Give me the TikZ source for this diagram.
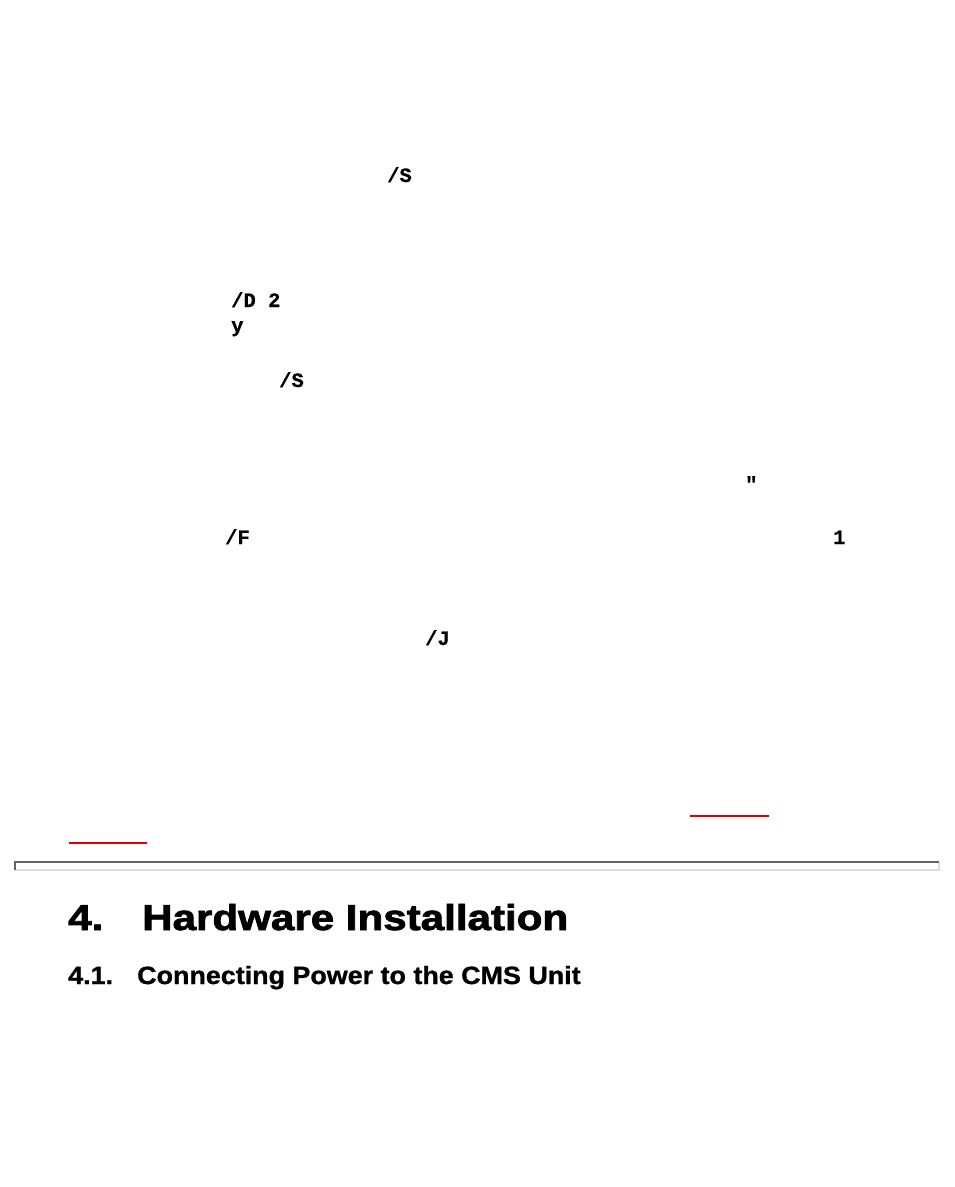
\documentclass[tikz,border=0pt]{standalone}
\usepackage{fontspec}
\newfontfamily\codefont{Liberation Mono}[BoldFeatures={FakeBold=0.6}]
\newfontfamily\headfont{Liberation Sans}[BoldFeatures={FakeBold=2}]
\newfontfamily\subheadfont{Liberation Sans}[BoldFeatures={FakeBold=1}]
\definecolor{linkred}{RGB}{220,0,0}
\definecolor{ruledark}{RGB}{100,100,100}
\definecolor{rulelight}{RGB}{222,222,222}

\begin{document}
\begin{tikzpicture}[x=1pt,y=-1pt,
  code/.style={font=\codefont\bfseries\fontsize{20.5}{20.5}\selectfont,anchor=base west,inner sep=0pt},
  head/.style={font=\headfont\bfseries\fontsize{36}{36}\selectfont,anchor=base west,inner sep=0pt,xscale=1.17,transform shape},
  subhead/.style={font=\subheadfont\bfseries\fontsize{25}{25}\selectfont,anchor=base west,inner sep=0pt,xscale=1.075,transform shape}]
    \useasboundingbox[fill=white] (0,0) rectangle (954,1187);

    % scattered code fragments
    \node[code] (s1) at (387,182) {/S};
    \node[code] (d2) at (231,307) {/D 2};
    \node[code] (y) at (231,332) {y};
    \node[code] (s2) at (279,387) {/S};
    \node[code] (q) at (745,491) {"};
    \node[code] (f) at (225,544) {/F};
    \node[code] (one) at (833,544) {1};
    \node[code] (j) at (425,645) {/J};

    % link underlines
    \draw[linkred,line width=1.6] (690,816) -- (769,816)
    (69,843) -- (147,843);

    % horizontal rule
    \fill[white] (15,862) rectangle (939,870);
    \draw[rulelight,line width=1.5] (15,870) -- (939,870) -- (939,862);
    \draw[ruledark,line width=1.5] (15,870) -- (15,862) -- (939,862);

    \node[head] (num) at (68,930) {4.};
    \node[head] (title) at (142,930) {Hardware Installation};
    \node[subhead] (subnum) at (68,984) {4.1.};
    \node[subhead] (subtitle) at (137,984) {Connecting Power to the CMS Unit};
    \end{tikzpicture}
\end{document}
